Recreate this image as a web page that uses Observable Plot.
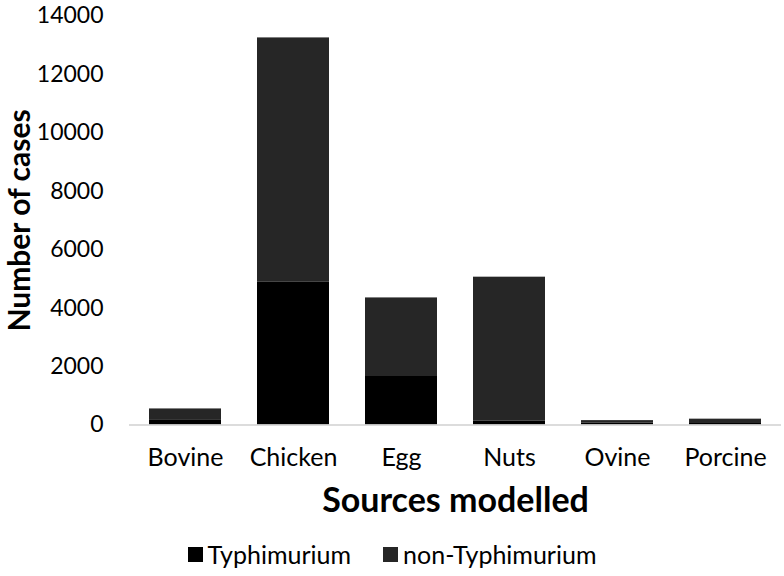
<!DOCTYPE html>
<html>
<head>
<meta charset="utf-8">
<script src="https://cdn.jsdelivr.net/npm/d3@7"></script>
<script src="https://cdn.jsdelivr.net/npm/@observablehq/plot@0.6"></script>
<style>
  html, body { margin: 0; padding: 0; background: #fff; }
  #chart { width: 784px; }
  .legend { display: flex; justify-content: center; align-items: center; height: 46px; padding-top: 2px; box-sizing: border-box;
    font-family: Lato, "Open Sans", sans-serif; font-size: 25px; color: #000; padding-left: 0px; }
  .legend .item { display: flex; align-items: center; margin: 0 16px; }
  .legend .sw { width: 15px; height: 15px; display: inline-block; margin-right: 5px; }
</style>
</head>
<body>
<div id="chart"></div>
<script>
const categories = ["Bovine", "Chicken", "Egg", "Nuts", "Ovine", "Porcine"];
const typhimurium = [180, 4900, 1660, 140, 60, 80];
const nonTyphimurium = [370, 8350, 2690, 4920, 90, 120];
const seriesNames = ["Typhimurium", "non-Typhimurium"];
const seriesColors = ["#000000", "#262626"];
const yTicks = [0, 2000, 4000, 6000, 8000, 10000, 12000, 14000];

const rows = [];
categories.forEach((c, i) => {
  rows.push({source: c, series: seriesNames[0], value: typhimurium[i]});
  rows.push({source: c, series: seriesNames[1], value: nonTyphimurium[i]});
});

const font = "Lato, 'Open Sans', sans-serif";

const plot = Plot.plot({
  width: 784,
  height: 530,
  marginLeft: 129,
  marginRight: 3,
  marginTop: 15.5,
  marginBottom: 105.5,
  style: {fontFamily: font, fontSize: "23px", color: "#000", background: "#fff"},
  x: {domain: categories, paddingInner: 0.33, paddingOuter: 0.165, label: null},
  y: {domain: [0, 14000], label: null},
  color: {domain: seriesNames, range: seriesColors},
  marks: [
    Plot.barY(rows, Plot.stackY({x: "source", y: "value", fill: "series", order: seriesNames})),
    Plot.ruleY([0], {stroke: "#d0d0d0", strokeWidth: 1.3}),
    Plot.axisX({tickSize: 0, tickPadding: 23, label: null, fontSize: 25}),
    Plot.axisY({ticks: yTicks, tickSize: 0, tickPadding: 26, label: null, tickFormat: d => String(d), fontSize: 23}),
    Plot.text(["Number of cases"], {frameAnchor: "left", rotate: -90, dx: -109, dy: 0, fontSize: 30, fontWeight: "bold", textAnchor: "middle", lineAnchor: "middle"}),
    Plot.text(["Sources modelled"], {frameAnchor: "bottom", dy: 76, fontSize: 34, fontWeight: "bold", textAnchor: "middle", lineAnchor: "middle"})
  ]
});
document.getElementById("chart").appendChild(plot);

const legend = document.createElement("div");
legend.className = "legend";
seriesNames.forEach((s, i) => {
  const it = document.createElement("div");
  it.className = "item";
  const sw = document.createElement("span");
  sw.className = "sw";
  sw.style.background = seriesColors[i];
  it.appendChild(sw);
  it.appendChild(document.createTextNode(s));
  legend.appendChild(it);
});
document.getElementById("chart").appendChild(legend);
</script>
</body>
</html>
